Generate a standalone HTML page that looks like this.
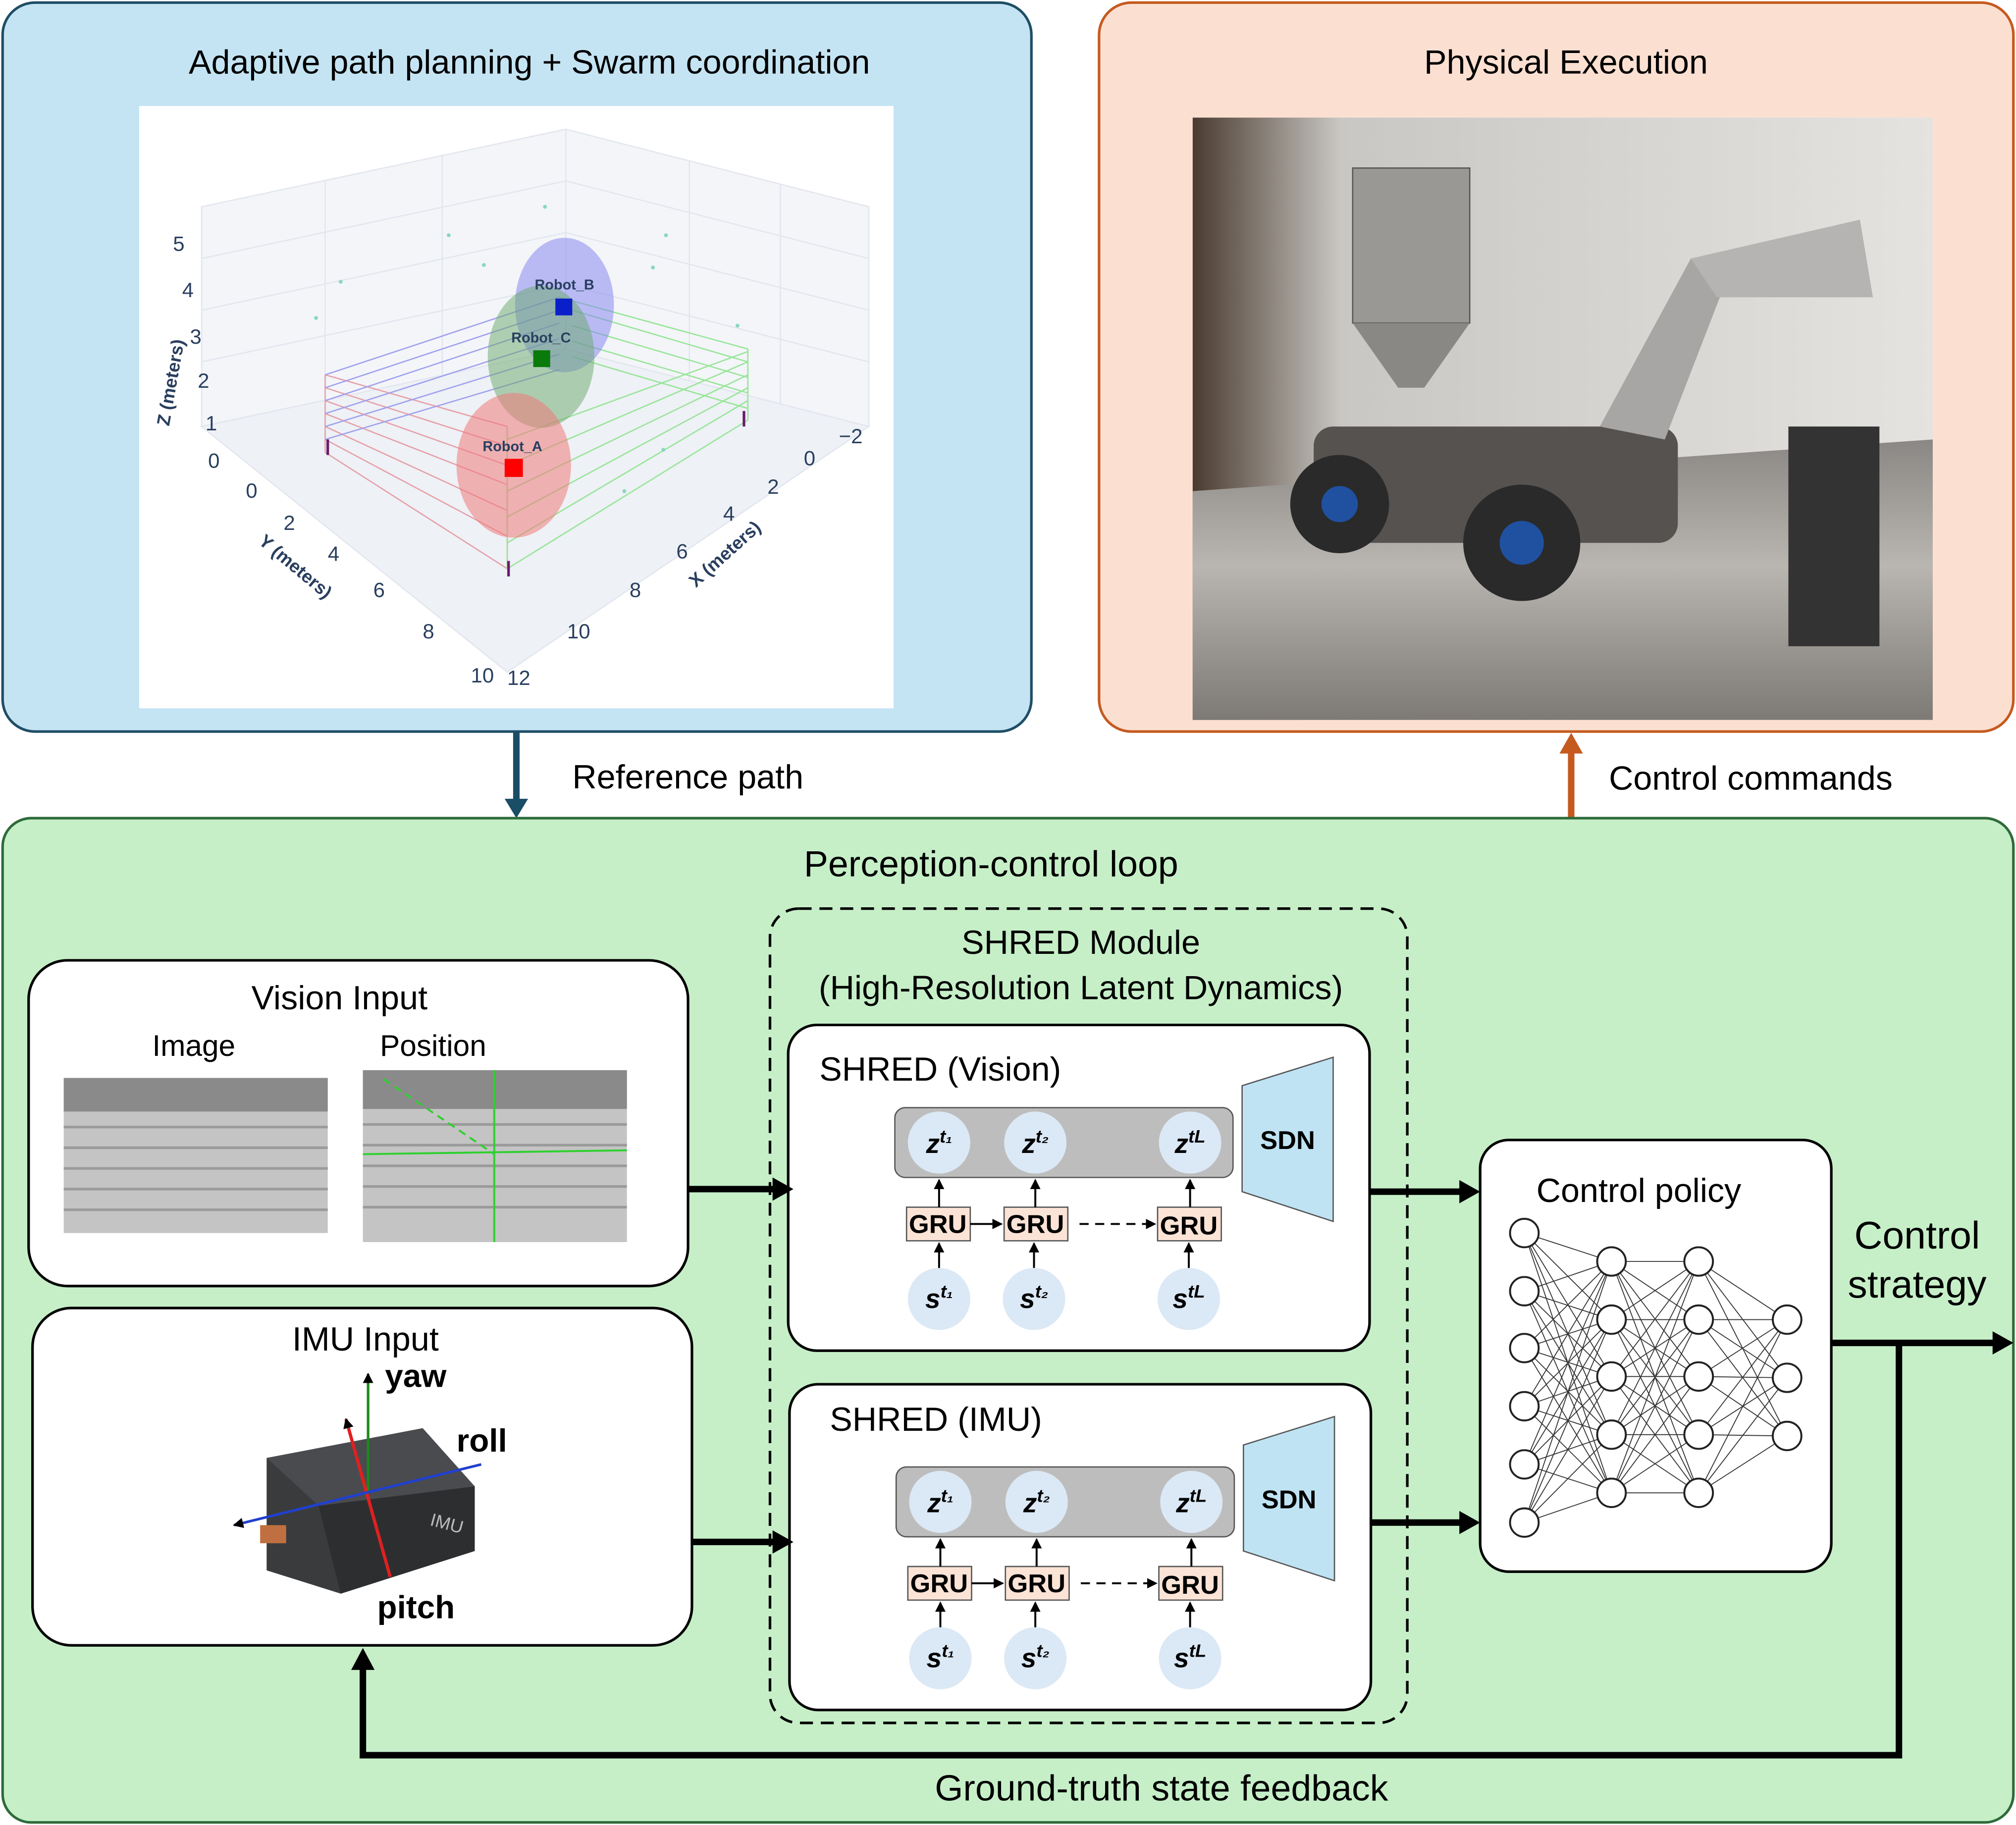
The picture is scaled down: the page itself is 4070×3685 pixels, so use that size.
<!DOCTYPE html>
<html><head><meta charset="utf-8"><style>
html,body{margin:0;padding:0;background:#fff}
svg{display:block}
text{font-family:"Liberation Sans",sans-serif}
</style></head><body>
<svg width="4070" height="3685" viewBox="0 0 1550 1412" preserveAspectRatio="none" xmlns="http://www.w3.org/2000/svg">
<defs>
<marker id="as" markerWidth="8" markerHeight="8" refX="7" refY="4" orient="auto" markerUnits="userSpaceOnUse"><path d="M0,0 L8,4 L0,8 z" fill="#000"/></marker>
<linearGradient id="ph" x1="0" y1="0" x2="0" y2="1"><stop offset="0" stop-color="#8a8784"/><stop offset="0.45" stop-color="#b9b6b1"/><stop offset="1" stop-color="#7d7a76"/></linearGradient>
<linearGradient id="wall" x1="0" y1="0" x2="1" y2="0"><stop offset="0" stop-color="#4a3b30"/><stop offset="0.2" stop-color="#c9c7c3"/><stop offset="1" stop-color="#e4e3e0"/></linearGradient>
</defs>

<rect x="2" y="2" width="791" height="564" rx="25" fill="#c5e4f3" stroke="#1f4e66" stroke-width="2"/>
<text x="407" y="57" font-size="26" text-anchor="middle">Adaptive path planning + Swarm coordination</text>
<rect x="107" y="82" width="580" height="466" fill="#fff"/>
<g stroke="#e3e6ee" stroke-width="1" fill="none">
<polygon points="155,160 435,100 668,160 668,330 435,270 155,330" fill="#f3f5f9"/>
<polygon points="155,330 435,270 668,330 390,520" fill="#eef1f6"/>
<line x1="155" y1="200" x2="435" y2="140"/><line x1="155" y1="240" x2="435" y2="180"/><line x1="155" y1="280" x2="435" y2="220"/>
<line x1="435" y1="140" x2="668" y2="200"/><line x1="435" y1="180" x2="668" y2="240"/><line x1="435" y1="220" x2="668" y2="280"/>
<line x1="435" y1="100" x2="435" y2="270"/><line x1="250" y1="140" x2="250" y2="310"/><line x1="340" y1="120" x2="340" y2="290"/><line x1="530" y1="125" x2="530" y2="295"/><line x1="600" y1="143" x2="600" y2="313"/>
</g>
<g stroke="#e6a0a8" stroke-width="1" fill="none">
<path d="M250,290 L390,330 M250,350 L390,440 M250,290 L250,350 M390,330 L390,440 M250,300 L390,345 M250,310 L390,360 M250,320 L390,375 M250,330 L390,395 M250,340 L390,415"/>
</g>
<g stroke="#9fa0ee" stroke-width="1" fill="none"><path d="M250,290 L430,230 M250,300 L430,240 M250,310 L430,250 M250,320 L430,262 M250,330 L430,274 M250,340 L430,286"/></g>
<g stroke="#97e597" stroke-width="1" fill="none"><path d="M430,230 L575,270 M575,270 L575,325 M575,325 L390,440 M440,240 L575,280 M440,252 L575,292 M440,264 L575,304 M440,276 L575,316 M390,420 L575,310 M390,400 L575,300 M390,380 L575,290 M390,360 L575,280 M390,340 L575,272 M390,330 L390,440"/></g>
<g fill="#8bd6c0"><circle cx="262" cy="218" r="1.5"/><circle cx="243" cy="246" r="1.5"/><circle cx="419" cy="160" r="1.5"/><circle cx="372" cy="205" r="1.5"/><circle cx="512" cy="182" r="1.5"/><circle cx="502" cy="207" r="1.5"/><circle cx="567" cy="252" r="1.5"/><circle cx="510" cy="348" r="1.5"/><circle cx="480" cy="380" r="1.5"/><circle cx="345" cy="182" r="1.5"/></g>
<ellipse cx="434" cy="236" rx="38" ry="52" fill="#7f7ff0" fill-opacity="0.5"/>
<ellipse cx="416" cy="276" rx="41" ry="55" fill="#6aa86a" fill-opacity="0.5"/>
<ellipse cx="395" cy="360" rx="44" ry="56" fill="#f07a7a" fill-opacity="0.55"/>
<rect x="427" y="231" width="13" height="13" fill="#0a1fc9"/><rect x="410" y="271" width="13" height="13" fill="#0a7a0a"/><rect x="388" y="355" width="14" height="14" fill="#f00"/>
<g stroke="#6a1a6a" stroke-width="2"><line x1="252" y1="340" x2="252" y2="352"/><line x1="572" y1="318" x2="572" y2="330"/><line x1="391" y1="434" x2="391" y2="446"/></g>
<g font-size="11" font-weight="bold" fill="#2a3f5f" text-anchor="middle"><text x="434" y="224">Robot_B</text><text x="416" y="265">Robot_C</text><text x="394" y="349">Robot_A</text></g>
<g font-size="16" fill="#2a3f5f">
<text x="133" y="194">5</text><text x="140" y="230">4</text><text x="146" y="266">3</text><text x="152" y="300">2</text><text x="158" y="333">1</text><text x="160" y="362">0</text>
<text x="189" y="385">0</text><text x="218" y="410">2</text><text x="252" y="434">4</text><text x="287" y="462">6</text><text x="325" y="494">8</text><text x="362" y="528">10</text><text x="390" y="530">12</text>
<text x="436" y="494">10</text><text x="484" y="462">8</text><text x="520" y="432">6</text><text x="556" y="403">4</text><text x="590" y="382">2</text><text x="618" y="360">0</text><text x="645" y="343">−2</text>
<text x="130" y="330" font-weight="bold" font-size="14" transform="rotate(-80 130 330)">Z (meters)</text>
<text x="198" y="420" font-weight="bold" font-size="14" transform="rotate(40 198 420)">Y (meters)</text>
<text x="535" y="455" font-weight="bold" font-size="14" transform="rotate(-42 535 455)">X (meters)</text>
</g>

<rect x="845" y="2" width="703" height="564" rx="25" fill="#fbe0d2" stroke="#c55a1f" stroke-width="2"/>
<text x="1204" y="57" font-size="26" text-anchor="middle">Physical Execution</text>
<rect x="917" y="91" width="569" height="466" fill="url(#wall)"/>
<polygon points="917,380 1486,340 1486,557 917,557" fill="url(#ph)"/>
<rect x="1040" y="130" width="90" height="120" fill="#9a9895" stroke="#555"/>
<polygon points="1040,250 1130,250 1095,300 1075,300" fill="#8a8884"/>
<rect x="1010" y="330" width="280" height="90" rx="15" fill="#555250"/>
<circle cx="1030" cy="390" r="38" fill="#2a2a2a"/><circle cx="1030" cy="390" r="14" fill="#2050a0"/>
<circle cx="1170" cy="420" r="45" fill="#2a2a2a"/><circle cx="1170" cy="420" r="17" fill="#2050a0"/>
<polygon points="1230,330 1300,200 1330,210 1280,340" fill="#a7a6a4"/>
<polygon points="1300,200 1430,170 1440,230 1320,230" fill="#b5b4b2"/>
<rect x="1375" y="330" width="70" height="170" fill="#333"/>

<line x1="397" y1="566" x2="397" y2="620" stroke="#1a4d66" stroke-width="5"/><polygon points="388,618 406,618 397,633" fill="#1a4d66"/>
<text x="440" y="610" font-size="26">Reference path</text>
<line x1="1208" y1="633" x2="1208" y2="580" stroke="#c55a1f" stroke-width="5"/><polygon points="1199,583 1217,583 1208,567" fill="#c55a1f"/>
<text x="1237" y="611" font-size="26">Control commands</text>

<rect x="2" y="633" width="1546" height="777" rx="22" fill="#c6efc8" stroke="#2e6b3a" stroke-width="2"/>
<text x="762" y="678" font-size="28" text-anchor="middle">Perception-control loop</text>

<rect x="22" y="743" width="507" height="252" rx="30" fill="#fff" stroke="#000" stroke-width="2"/>
<text x="261" y="781" font-size="26" text-anchor="middle">Vision Input</text>
<text x="149" y="817" font-size="23" text-anchor="middle">Image</text>
<text x="333" y="817" font-size="23" text-anchor="middle">Position</text>
<rect x="49" y="834" width="203" height="120" fill="#c4c4c4"/>
<g stroke="#9a9a9a" stroke-width="2"><line x1="49" y1="872" x2="252" y2="872"/><line x1="49" y1="888" x2="252" y2="888"/><line x1="49" y1="904" x2="252" y2="904"/><line x1="49" y1="920" x2="252" y2="920"/><line x1="49" y1="936" x2="252" y2="936"/></g>
<rect x="49" y="834" width="203" height="26" fill="#8a8a8a"/>
<rect x="279" y="828" width="203" height="133" fill="#c4c4c4"/>
<g stroke="#9a9a9a" stroke-width="2"><line x1="279" y1="870" x2="482" y2="870"/><line x1="279" y1="886" x2="482" y2="886"/><line x1="279" y1="902" x2="482" y2="902"/><line x1="279" y1="918" x2="482" y2="918"/><line x1="279" y1="934" x2="482" y2="934"/></g>
<rect x="279" y="828" width="203" height="30" fill="#8a8a8a"/>
<line x1="380" y1="828" x2="380" y2="961" stroke="#2fd02f" stroke-width="1.5"/>
<line x1="279" y1="893" x2="482" y2="890" stroke="#2fd02f" stroke-width="1.5"/>
<line x1="295" y1="835" x2="380" y2="893" stroke="#2fd02f" stroke-width="1.5" stroke-dasharray="6,4"/>

<rect x="25" y="1012" width="507" height="261" rx="30" fill="#fff" stroke="#000" stroke-width="2"/>
<text x="281" y="1045" font-size="26" text-anchor="middle">IMU Input</text>
<polygon points="205,1128 325,1105 365,1150 365,1200 262,1233 205,1215" fill="#3a3b3d"/>
<polygon points="205,1128 325,1105 365,1150 245,1165" fill="#4a4b4e"/>
<polygon points="245,1165 365,1150 365,1200 262,1233" fill="#2d2e30"/>
<text x="330" y="1180" font-size="14" fill="#bbb" transform="rotate(15 330 1180)">IMU</text>
<rect x="200" y="1180" width="20" height="14" fill="#c07040"/>
<line x1="283" y1="1155" x2="283" y2="1063" stroke="#1a8a1a" stroke-width="2" marker-end="url(#as)"/>
<line x1="300" y1="1220" x2="266" y2="1098" stroke="#e02020" stroke-width="2.5" marker-end="url(#as)"/>
<line x1="370" y1="1133" x2="180" y2="1180" stroke="#2040d0" stroke-width="2" marker-end="url(#as)"/>
<g font-size="25" font-weight="bold"><text x="296" y="1073">yaw</text><text x="351" y="1123">roll</text><text x="290" y="1252">pitch</text></g>

<rect x="592" y="703" width="490" height="630" rx="22" fill="none" stroke="#000" stroke-width="2" stroke-dasharray="10,6"/>
<text x="831" y="738" font-size="26" text-anchor="middle">SHRED Module</text>
<text x="831" y="773" font-size="26" text-anchor="middle">(High-Resolution Latent Dynamics)</text>

<g id="sv">
<rect x="606" y="793" width="447" height="252" rx="22" fill="#fff" stroke="#000" stroke-width="2"/>
<rect x="688" y="857" width="260" height="54" rx="8" fill="#bdbdbd" stroke="#555"/>
<g fill="#dbe8f5"><circle cx="722" cy="884" r="24"/><circle cx="796" cy="884" r="24"/><circle cx="915" cy="884" r="24"/>
<circle cx="722" cy="1005" r="24"/><circle cx="795" cy="1005" r="24"/><circle cx="914" cy="1005" r="24"/></g>
<g font-family="Liberation Serif" font-weight="bold" font-style="italic" font-size="21" text-anchor="middle">
<text x="722" y="892">z<tspan font-size="14" dy="-8">t₁</tspan></text><text x="796" y="892">z<tspan font-size="14" dy="-8">t₂</tspan></text><text x="915" y="892">z<tspan font-size="14" dy="-8">tL</tspan></text>
<text x="722" y="1012">s<tspan font-size="14" dy="-8">t₁</tspan></text><text x="795" y="1012">s<tspan font-size="14" dy="-8">t₂</tspan></text><text x="914" y="1012">s<tspan font-size="14" dy="-8">tL</tspan></text></g>
<g fill="#fbe3d6" stroke="#555"><rect x="697" y="934" width="49" height="26"/><rect x="772" y="934" width="49" height="26"/><rect x="890" y="934" width="49" height="26"/></g>
<g font-size="20" font-weight="bold" text-anchor="middle"><text x="721" y="954">GRU</text><text x="796" y="954">GRU</text><text x="914" y="955">GRU</text></g>
<g stroke="#000" stroke-width="1.5"><line x1="722" y1="981" x2="722" y2="962" marker-end="url(#as)"/><line x1="795" y1="981" x2="795" y2="962" marker-end="url(#as)"/><line x1="914" y1="981" x2="914" y2="962" marker-end="url(#as)"/>
<line x1="722" y1="934" x2="722" y2="913" marker-end="url(#as)"/><line x1="796" y1="934" x2="796" y2="913" marker-end="url(#as)"/><line x1="915" y1="934" x2="915" y2="913" marker-end="url(#as)"/>
<line x1="746" y1="947" x2="770" y2="947" marker-end="url(#as)"/><line x1="830" y1="947" x2="888" y2="947" stroke-dasharray="7,5" marker-end="url(#as)"/></g>
<polygon points="955,840 1025,818 1025,945 955,922" fill="#bfe3f3" stroke="#555"/>
<text x="990" y="889" font-size="20" font-weight="bold" text-anchor="middle">SDN</text>
</g>
<use href="#sv" transform="translate(1,278)"/>
<text x="630" y="836" font-size="26">SHRED (Vision)</text>
<text x="638" y="1107" font-size="26">SHRED (IMU)</text>

<rect x="1138" y="882" width="270" height="334" rx="22" fill="#fff" stroke="#000" stroke-width="2"/>
<text x="1260" y="930" font-size="26" text-anchor="middle">Control policy</text>
<g stroke="#333" stroke-width="0.7" fill="none">
<path d="M1239,976 L1172,954 M1239,976 L1172,999 M1239,976 L1172,1043 M1239,976 L1172,1088 M1239,976 L1172,1133 M1239,976 L1172,1178
M1239,1021 L1172,954 M1239,1021 L1172,999 M1239,1021 L1172,1043 M1239,1021 L1172,1088 M1239,1021 L1172,1133 M1239,1021 L1172,1178
M1239,1065 L1172,954 M1239,1065 L1172,999 M1239,1065 L1172,1043 M1239,1065 L1172,1088 M1239,1065 L1172,1133 M1239,1065 L1172,1178
M1239,1110 L1172,954 M1239,1110 L1172,999 M1239,1110 L1172,1043 M1239,1110 L1172,1088 M1239,1110 L1172,1133 M1239,1110 L1172,1178
M1239,1155 L1172,954 M1239,1155 L1172,999 M1239,1155 L1172,1043 M1239,1155 L1172,1088 M1239,1155 L1172,1133 M1239,1155 L1172,1178"/>
<path d="M1306,976 L1239,976 M1306,976 L1239,1021 M1306,976 L1239,1065 M1306,976 L1239,1110 M1306,976 L1239,1155
M1306,1021 L1239,976 M1306,1021 L1239,1021 M1306,1021 L1239,1065 M1306,1021 L1239,1110 M1306,1021 L1239,1155
M1306,1065 L1239,976 M1306,1065 L1239,1021 M1306,1065 L1239,1065 M1306,1065 L1239,1110 M1306,1065 L1239,1155
M1306,1110 L1239,976 M1306,1110 L1239,1021 M1306,1110 L1239,1065 M1306,1110 L1239,1110 M1306,1110 L1239,1155
M1306,1155 L1239,976 M1306,1155 L1239,1021 M1306,1155 L1239,1065 M1306,1155 L1239,1110 M1306,1155 L1239,1155"/>
<path d="M1374,1021 L1306,976 M1374,1021 L1306,1021 M1374,1021 L1306,1065 M1374,1021 L1306,1110 M1374,1021 L1306,1155
M1374,1066 L1306,976 M1374,1066 L1306,1021 M1374,1066 L1306,1065 M1374,1066 L1306,1110 M1374,1066 L1306,1155
M1374,1111 L1306,976 M1374,1111 L1306,1021 M1374,1111 L1306,1065 M1374,1111 L1306,1110 M1374,1111 L1306,1155"/>
</g>
<g fill="#fff" stroke="#222" stroke-width="1.5">
<circle cx="1172" cy="954" r="11"/><circle cx="1172" cy="999" r="11"/><circle cx="1172" cy="1043" r="11"/><circle cx="1172" cy="1088" r="11"/><circle cx="1172" cy="1133" r="11"/><circle cx="1172" cy="1178" r="11"/>
<circle cx="1239" cy="976" r="11"/><circle cx="1239" cy="1021" r="11"/><circle cx="1239" cy="1065" r="11"/><circle cx="1239" cy="1110" r="11"/><circle cx="1239" cy="1155" r="11"/>
<circle cx="1306" cy="976" r="11"/><circle cx="1306" cy="1021" r="11"/><circle cx="1306" cy="1065" r="11"/><circle cx="1306" cy="1110" r="11"/><circle cx="1306" cy="1155" r="11"/>
<circle cx="1374" cy="1021" r="11"/><circle cx="1374" cy="1066" r="11"/><circle cx="1374" cy="1111" r="11"/>
</g>

<g stroke="#000" stroke-width="5" fill="none">
<line x1="529" y1="920" x2="596" y2="920"/><line x1="532" y1="1193" x2="596" y2="1193"/>
<line x1="1053" y1="922" x2="1124" y2="922"/><line x1="1053" y1="1178" x2="1124" y2="1178"/>
<line x1="1408" y1="1039" x2="1535" y2="1039"/>
<polyline points="1460,1039 1460,1358 279,1358 279,1290"/>
</g>
<g fill="#000">
<polygon points="594,911 610,920 594,929"/><polygon points="594,1184 610,1193 594,1202"/>
<polygon points="1122,913 1138,922 1122,931"/><polygon points="1122,1169 1138,1178 1122,1187"/>
<polygon points="1532,1030 1548,1039 1532,1048"/><polygon points="270,1292 279,1275 288,1292"/>
</g>
<text x="1474" y="966" font-size="30" text-anchor="middle">Control</text>
<text x="1474" y="1004" font-size="30" text-anchor="middle">strategy</text>
<text x="893" y="1393" font-size="28" text-anchor="middle">Ground-truth state feedback</text>
</svg>
</body></html>
